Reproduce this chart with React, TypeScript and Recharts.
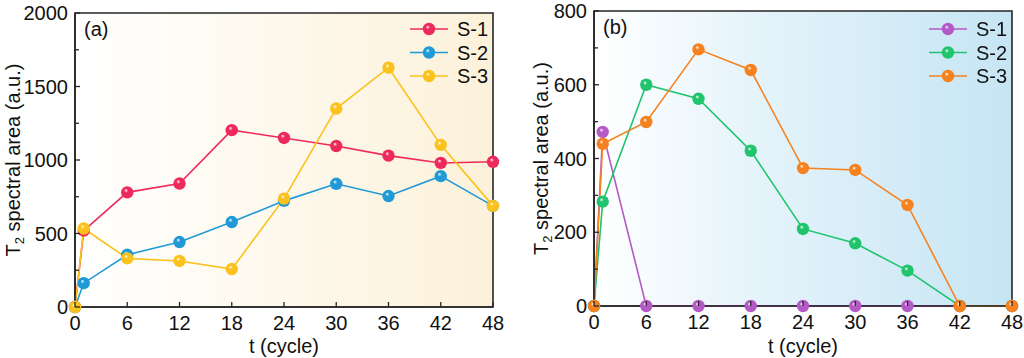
import React from 'react';
import { LineChart, Line, XAxis, YAxis, ReferenceArea, Legend } from 'recharts';

// cycles sampled
const cycles = [0, 1, 6, 12, 18, 24, 30, 36, 42, 48];
const xTicks = [0, 6, 12, 18, 24, 30, 36, 42, 48];

// panel (a)
const aS1 = [0, 520, 780, 840, 1203, 1150, 1095, 1030, 980, 988];
const aS2 = [0, 162, 355, 442, 578, 722, 838, 755, 890, 688];
const aS3 = [0, 534, 331, 313, 258, 737, 1350, 1628, 1103, 688];
const aYTicks = [0, 250, 500, 750, 1000, 1250, 1500, 1750, 2000];

// panel (b)
const bS1 = [0, 472, 0, 0, 0, 0, 0, 0, 0, 0];
const bS2 = [0, 283, 600, 562, 421, 209, 170, 96, 0, 0];
const bS3 = [0, 440, 499, 696, 640, 374, 369, 274, 0, 0];
const bYTicks = [0, 100, 200, 300, 400, 500, 600, 700, 800];

const seriesNames = ['S-1', 'S-2', 'S-3'];
const aColors = ['#ee2a5c', '#1f9ad6', '#fbc21e'];
const bColors = ['#b45ac6', '#1fc46c', '#f5821f'];

const FONT = '"Liberation Sans", Arial, sans-serif';
const AXIS = '#262626';

const buildRows = (s1: number[], s2: number[], s3: number[]) =>
  cycles.map((t, i) => ({ t, s1: s1[i], s2: s2[i], s3: s3[i] }));

const aData = buildRows(aS1, aS2, aS3);
const bData = buildRows(bS1, bS2, bS3);

const BallDefs = ({ prefix, colors }: { prefix: string; colors: string[] }) => (
  <>
    {colors.map((c, i) => (
      <radialGradient key={i} id={`${prefix}-ball-${i}`} cx="0.5" cy="0.5" r="0.55" fx="0.38" fy="0.32">
        <stop offset="0%" stopColor="#ffffff" stopOpacity={0.95} />
        <stop offset="30%" stopColor={c} />
        <stop offset="100%" stopColor={c} stopOpacity={1} />
      </radialGradient>
    ))}
  </>
);

const makeDot = (fill: string) => (props: any) => {
  const { cx, cy, index } = props;
  if (cx == null || cy == null) return null;
  return <circle key={index} cx={cx} cy={cy} r={6.2} fill={fill} />;
};

const makeYTick = (major: number) => (props: any) => {
  const { x, y, payload } = props;
  const isMajor = payload.value % major === 0;
  return (
    <g>
      <line x1={x} x2={x + (isMajor ? 5 : 4)} y1={y} y2={y} stroke={AXIS} strokeWidth={1.3} />
      {isMajor && (
        <text x={x - 7} y={y} dy={7} textAnchor="end" fontSize={20} fill="#111">
          {payload.value}
        </text>
      )}
    </g>
  );
};

const XTick = (props: any) => {
  const { x, y, payload } = props;
  return (
    <g>
      <line x1={x} x2={x} y1={y} y2={y - 5} stroke={AXIS} strokeWidth={1.3} />
      <text x={x} y={y + 23} textAnchor="middle" fontSize={20} fill="#111">
        {payload.value}
      </text>
    </g>
  );
};

const YTitle = (props: any) => {
  const { viewBox, cx } = props;
  const cy = viewBox.y + viewBox.height / 2;
  return (
    <text transform={`translate(${cx},${cy}) rotate(-90)`} dy={7} textAnchor="middle" fontSize={20} fill="#111">
      T<tspan fontSize={13} dy={4}>2</tspan>
      <tspan dy={-4}> spectral area (a.u.)</tspan>
    </text>
  );
};

const makeLegend = (prefix: string, colors: string[]) => () => (
  <svg width={110} height={72} style={{ fontFamily: FONT, overflow: 'visible' }}>
    {seriesNames.map((n, i) => {
      const y = 12 + i * 23.5;
      return (
        <g key={n}>
          <line x1={4} x2={42} y1={y} y2={y} stroke={colors[i]} strokeWidth={1.6} />
          <circle cx={23} cy={y} r={6.2} fill={`url(#${prefix}-ball-${i})`} />
          <text x={51} y={y + 7} fontSize={20} fill="#111">{n}</text>
        </g>
      );
    })}
  </svg>
);

type PanelProps = {
  prefix: string;
  tag: string;
  data: any[];
  colors: string[];
  yMax: number;
  yTicks: number[];
  major: number;
  width: number;
  left: number;
  right: number;
  top: number;
  bottom: number;
  bgMid: string;
  bgEnd: string;
  yTitleX: number;
  legendLeft: number;
};

const Panel = (p: PanelProps) => (
  <LineChart
    width={p.width}
    height={358}
    data={p.data}
    margin={{ top: p.top, right: p.right, bottom: 0, left: 0 }}
    style={{ fontFamily: FONT }}
  >
    <defs>
      <linearGradient id={`${p.prefix}-bg`} x1="0" y1="0" x2="1" y2="0">
        <stop offset="0%" stopColor="#ffffff" />
        <stop offset="40%" stopColor={p.bgMid} />
        <stop offset="100%" stopColor={p.bgEnd} />
      </linearGradient>
      <BallDefs prefix={p.prefix} colors={p.colors} />
    </defs>
    <XAxis
      dataKey="t"
      type="number"
      domain={[0, 48]}
      ticks={xTicks}
      height={p.bottom}
      tickSize={0}
      tickMargin={0}
      tickLine={false}
      tick={XTick}
      axisLine={{ stroke: AXIS, strokeWidth: 1.6 }}
      label={{ value: 't (cycle)', position: 'insideBottom', offset: 5, fontSize: 20, fill: '#111' }}
    />
    <YAxis
      type="number"
      domain={[0, p.yMax]}
      ticks={p.yTicks}
      width={p.left}
      tickSize={0}
      tickMargin={0}
      tickLine={false}
      tick={makeYTick(p.major)}
      axisLine={{ stroke: AXIS, strokeWidth: 1.6 }}
      interval={0}
      label={<YTitle cx={p.yTitleX} />}
    />
    <ReferenceArea
      x1={0}
      x2={48}
      y1={0}
      y2={p.yMax}
      fill={`url(#${p.prefix}-bg)`}
      fillOpacity={1}
      stroke={AXIS}
      strokeWidth={1.6}
      label={{ value: p.tag, position: 'insideTopLeft', offset: 9, fontSize: 20, fill: '#111' }}
    />
    {['s1', 's2', 's3'].map((k, i) => (
      <Line
        key={k}
        dataKey={k}
        name={seriesNames[i]}
        stroke={p.colors[i]}
        strokeWidth={1.6}
        dot={makeDot(`url(#${p.prefix}-ball-${i})`)}
        activeDot={false}
        isAnimationActive={false}
      />
    ))}
    <Legend
      layout="horizontal"
      verticalAlign="middle"
      align="center"
      content={makeLegend(p.prefix, p.colors)}
      wrapperStyle={{ position: 'absolute', left: p.legendLeft, top: 17, width: 110, height: 72 }}
    />
  </LineChart>
);

export default function App() {
  return (
    <div style={{ position: 'fixed', left: 0, top: 0, width: 1024, height: 358, background: '#fff', display: 'flex' }}>
      <Panel
        prefix="a"
        tag="(a)"
        data={aData}
        colors={aColors}
        yMax={2000}
        yTicks={aYTicks}
        major={500}
        width={510}
        left={75}
        right={17}
        top={13}
        bottom={51}
        bgMid="#fefaf0"
        bgEnd="#fcf1da"
        yTitleX={13}
        legendLeft={406}
      />
      <Panel
        prefix="b"
        tag="(b)"
        data={bData}
        colors={bColors}
        yMax={800}
        yTicks={bYTicks}
        major={200}
        width={514}
        left={84}
        right={12}
        top={11}
        bottom={52}
        bgMid="#e4f3fa"
        bgEnd="#c6e5f4"
        yTitleX={31}
        legendLeft={415}
      />
    </div>
  );
}
